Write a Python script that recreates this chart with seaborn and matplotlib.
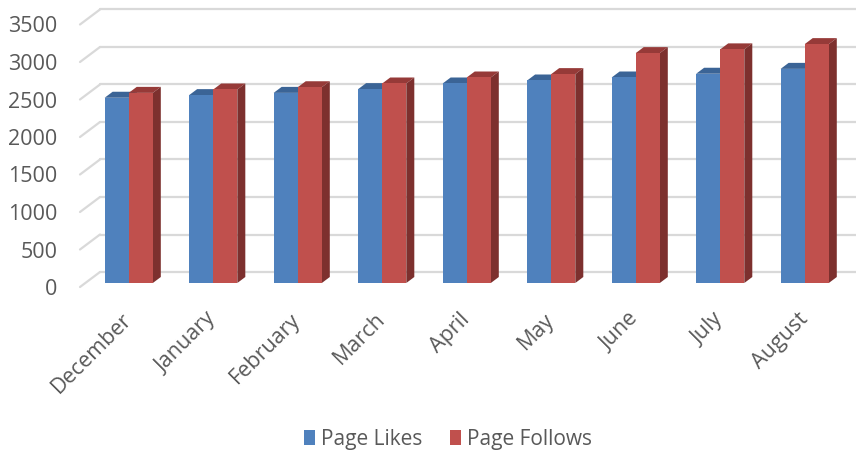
import pandas as pd
import matplotlib.pyplot as plt
import matplotlib.transforms as mtransforms
from matplotlib.patches import Polygon, Patch
import seaborn as sns

# Dados do gráfico
meses = ['December', 'January', 'February', 'March', 'April', 'May', 'June', 'July', 'August']
page_likes = [2470, 2505, 2535, 2585, 2660, 2700, 2740, 2790, 2855]
page_follows = [2535, 2580, 2610, 2660, 2740, 2785, 3065, 3115, 3185]
series = ['Page Likes', 'Page Follows']

# Cores estilo Excel (frente, topo, lateral)
cores = {'Page Likes': ('#4F81BD', '#3B6496', '#2E4F77'),
         'Page Follows': ('#C0504D', '#963A38', '#7D302E')}
cor_texto = '#595959'

sns.set_style('white')
plt.rcParams['font.family'] = ['Open Sans', 'DejaVu Sans']

df = pd.DataFrame({
    'Mes': meses * 2,
    'Valor': page_likes + page_follows,
    'Serie': [series[0]] * len(meses) + [series[1]] * len(meses),
})

W, H = 856, 455
fig = plt.figure(figsize=(W / 100, H / 100), dpi=100)
# eixo no plano das barras
ax = fig.add_axes([88 / W, (H - 283) / H, 756 / W, 262.5 / H])

sns.barplot(data=df, x='Mes', y='Valor', hue='Serie', order=meses, hue_order=series,
            palette=[cores[s][0] for s in series], saturation=1, width=0.57,
            linewidth=0, ax=ax, zorder=3, legend=False)
barras = list(ax.patches)

ax.set_xlim(-0.482, 8.465)
ax.set_ylim(0, 3500)

# conversão pixel -> dados
XPX = 1 / 84.5
YPX = 3500 / 262.5

# profundidade das barras
dx, dy = 8 * XPX, 6 * YPX
for i, p in enumerate(barras):
    s = series[0] if i < len(meses) else series[1]
    x0, w, h = p.get_x(), p.get_width(), p.get_height()
    x1 = x0 + w
    topo = Polygon([(x0, h), (x1, h), (x1 + dx, h + dy), (x0 + dx, h + dy)],
                   closed=True, facecolor=cores[s][1], edgecolor='none', zorder=2, clip_on=False)
    lado = Polygon([(x1, 0), (x1, h), (x1 + dx, h + dy), (x1 + dx, dy)],
                   closed=True, facecolor=cores[s][2], edgecolor='none', zorder=2, clip_on=False)
    ax.add_patch(topo)
    ax.add_patch(lado)

# grade: parede do fundo e linhas inclinadas na frente
xa, xb = ax.get_xlim()
for v in range(0, 3501, 500):
    ax.plot([xa + 12 * XPX, xb + 12 * XPX], [v + 11 * YPX, v + 11 * YPX],
            color='#D9D9D9', lw=1.6, zorder=0, clip_on=False)
    ax.plot([xa - 8 * XPX, xa + 12 * XPX], [v - 4 * YPX, v + 11 * YPX],
            color='#D9D9D9', lw=1.6, zorder=0, clip_on=False)

for lado_ax in ['top', 'right', 'left', 'bottom']:
    ax.spines[lado_ax].set_visible(False)
ax.grid(False)
ax.set_xlabel('')
ax.set_ylabel('')

ax.set_yticks(range(0, 3501, 500))
ax.tick_params(axis='y', length=0, pad=22, labelsize=15.5, labelcolor=cor_texto)
desloc_y = mtransforms.ScaledTranslation(0, -4 / 100, fig.dpi_scale_trans)
for lbl in ax.get_yticklabels():
    lbl.set_transform(lbl.get_transform() + desloc_y)

ax.tick_params(axis='x', length=0, pad=24, labelsize=15.5, labelcolor=cor_texto)
desloc_x = mtransforms.ScaledTranslation(0, 0, fig.dpi_scale_trans)
for lbl in ax.get_xticklabels():
    lbl.set_rotation(45)
    lbl.set_ha('right')
    lbl.set_va('center')
    lbl.set_rotation_mode('anchor')
    lbl.set_transform(lbl.get_transform() + desloc_x)

handles = [Patch(facecolor=cores[s][0], edgecolor='none', label=s) for s in series]
leg = fig.legend(handles=handles, loc='center', bbox_to_anchor=(448 / W, (H - 439) / H),
                 ncol=2, frameon=False, fontsize=15, handlelength=0.55, handleheight=0.75,
                 handletextpad=0.3, columnspacing=1.3)
for t in leg.get_texts():
    t.set_color(cor_texto)

fig.savefig('out.png', dpi=100)
